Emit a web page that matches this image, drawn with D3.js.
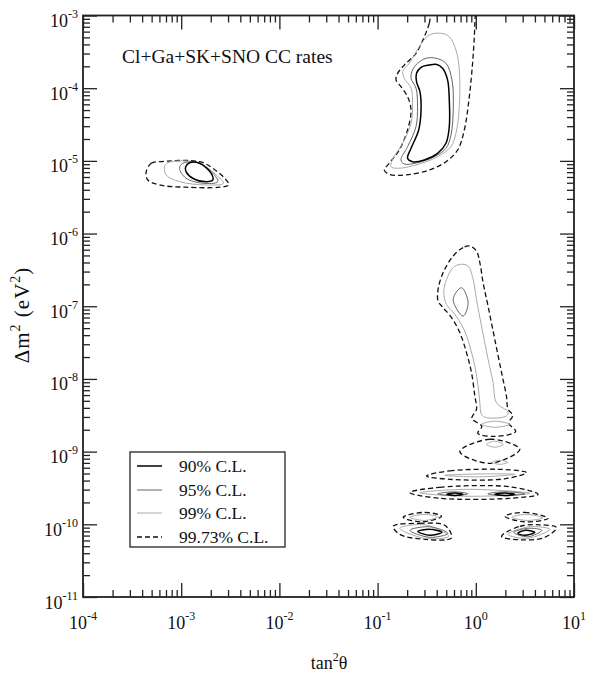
<!DOCTYPE html>
<html>
<head>
<meta charset="utf-8">
<script src="https://cdn.jsdelivr.net/npm/d3@7"></script>
<style>
  body { margin: 0; background: #fff; }
  svg text { font-family: "Liberation Serif", "Times New Roman", serif; fill: #111; }
</style>
</head>
<body>
<div id="chart"></div>
<script>
// axis decades
const tanTicks = [1e-4, 1e-3, 1e-2, 1e-1, 1, 10];
const tanExp = ["-4", "-3", "-2", "-1", "0", "1"];
const dmTicks = [1e-11, 1e-10, 1e-9, 1e-8, 1e-7, 1e-6, 1e-5, 1e-4, 1e-3];
const dmExp = ["-11", "-10", "-9", "-8", "-7", "-6", "-5", "-4", "-3"];

// contours, [tan^2 theta, dm^2 (eV^2)]
// LMA
const lma90 = [[0.336,2.08e-4],[0.277,1.94e-4],[0.249,1.60e-4],[0.249,1.23e-4],[0.270,8.95e-5],[0.277,5.01e-5],[0.262,2.66e-5],[0.219,1.49e-5],[0.202,1.09e-5],[0.227,9.75e-6],[0.299,1.03e-5],[0.408,1.27e-5],[0.497,1.75e-5],[0.537,2.95e-5],[0.537,6.89e-5],[0.516,1.30e-4],[0.459,1.88e-4],[0.393,2.13e-4]];
const lma95 = [[0.311,2.58e-4],[0.255,2.20e-4],[0.227,1.78e-4],[0.219,1.37e-4],[0.246,1.0e-4],[0.255,5.57e-5],[0.246,2.95e-5],[0.202,1.57e-5],[0.173,1.03e-5],[0.187,9.06e-6],[0.255,9.44e-6],[0.378,1.14e-5],[0.497,1.49e-5],[0.559,2.27e-5],[0.590,5.57e-5],[0.572,1.30e-4],[0.497,2.20e-4],[0.393,2.58e-4]];
const lma99 = [[0.442,5.69e-4],[0.336,5.39e-4],[0.266,3.72e-4],[0.210,2.20e-4],[0.180,1.69e-4],[0.187,1.37e-4],[0.219,1.0e-4],[0.227,6.20e-5],[0.219,3.29e-5],[0.180,1.75e-5],[0.141,1.03e-5],[0.137,8.32e-6],[0.160,7.91e-6],[0.246,8.79e-6],[0.408,1.14e-5],[0.559,1.57e-5],[0.628,2.40e-5],[0.679,5.57e-5],[0.679,1.78e-4],[0.628,3.35e-4],[0.537,5.11e-4]];
const lma9973 = [[0.37,1.4e-3],[0.336,7.81e-4],[0.299,5.11e-4],[0.246,3.02e-4],[0.187,2.08e-4],[0.160,1.60e-4],[0.154,1.30e-4],[0.173,1.05e-4],[0.202,7.64e-5],[0.219,5.01e-5],[0.202,2.66e-5],[0.166,1.41e-5],[0.1315,9.27e-6],[0.117,7.48e-6],[0.1315,6.53e-6],[0.195,6.40e-6],[0.336,7.48e-6],[0.497,9.75e-6],[0.653,1.41e-5],[0.764,2.66e-5],[0.859,7.64e-5],[0.927,2.20e-4],[0.966,5.11e-4],[0.98,8.67e-4],[0.99,1.4e-3],[0.7,1.6e-3]];
// SMA
const sma90 = [[1.11e-3,8.32e-6],[1.22e-3,9.44e-6],[1.54e-3,9.27e-6],[2.02e-3,6.75e-6],[2.10e-3,5.46e-6],[1.80e-3,5.18e-6],[1.31e-3,5.77e-6],[1.12e-3,7.10e-6]];
const sma95 = [[9.61e-4,7.91e-6],[1.04e-3,9.27e-6],[1.48e-3,9.44e-6],[2.10e-3,6.75e-6],[2.36e-3,5.18e-6],[1.66e-3,4.92e-6],[1.12e-3,5.77e-6]];
const sma99 = [[6.76e-4,8.32e-6],[7.31e-4,9.44e-6],[1.48e-3,9.44e-6],[2.27e-3,6.40e-6],[2.70e-3,4.92e-6],[1.80e-3,4.66e-6],[9.61e-4,5.18e-6],[7.03e-4,6.40e-6]];
const sma9973 = [[4.40e-4,7.10e-6],[4.95e-4,9.27e-6],[6.01e-4,9.75e-6],[1.54e-3,9.75e-6],[2.10e-3,7.91e-6],[2.87e-3,5.46e-6],[3.05e-3,4.66e-6],[2.45e-3,4.34e-6],[1.12e-3,4.34e-6],[6.01e-4,4.66e-6],[4.57e-4,5.46e-6]];
// LOW
const low95 = [[0.715,1.80e-7],[0.588,1.24e-7],[0.743,7.33e-8],[0.835,1.12e-7]];
const low99 = [[0.687,3.77e-7],[0.588,3.40e-7],[0.503,2.34e-7],[0.472,1.54e-7],[0.503,1.06e-7],[0.611,7.74e-8],[0.743,5.08e-8],[0.869,2.84e-8],[0.977,1.50e-8],[1.055,7.98e-9],[1.099,4.72e-9],[1.143,3.26e-9],[1.285,2.94e-9],[2.05,3.09e-9],[2.13,3.51e-9],[1.62,4.72e-9],[1.50,8.89e-9],[1.334,1.86e-8],[1.143,5.34e-8],[1.016,1.24e-7],[0.939,2.34e-7],[0.835,3.57e-7]];
const low9973 = [[0.869,6.73e-7],[0.743,6.40e-7],[0.588,4.91e-7],[0.465,2.90e-7],[0.413,1.71e-7],[0.413,1.18e-7],[0.465,9.57e-8],[0.566,6.97e-8],[0.687,4.34e-8],[0.804,2.30e-8],[0.904,1.22e-8],[0.977,5.82e-9],[1.016,3.82e-9],[0.910,2.87e-9],[1.151,2.23e-9],[1.048,1.79e-9],[1.56,1.62e-9],[2.55,1.90e-9],[2.17,2.45e-9],[2.38,3.16e-9],[2.13,3.82e-9],[2.05,5.82e-9],[1.83,1.22e-8],[1.56,3.51e-8],[1.334,1.0e-7],[1.187,2.11e-7],[1.099,3.98e-7],[1.016,5.74e-7]];
// vacuum islands
const vac9973 = [
  [[0.687,1.0e-9],[1.39,1.48e-9],[2.81,1.08e-9],[1.39,6.9e-10]],
  [[0.315,4.62e-10],[0.543,5.44e-10],[2.22,5.62e-10],[3.28,5.14e-10],[1.97,4.23e-10],[0.543,4.16e-10]],
  [[0.213,2.73e-10],[0.430,3.23e-10],[2.22,3.28e-10],[4.31,2.59e-10],[2.22,2.28e-10],[0.430,2.28e-10]],
  [[0.182,1.25e-10],[0.303,1.46e-10],[0.448,1.29e-10],[0.282,1.08e-10]],
  [[0.144,9.39e-11],[0.269,1.03e-10],[0.483,9.69e-11],[0.566,6.52e-11],[0.303,6.22e-11],[0.168,7.28e-11]],
  [[1.97,1.29e-10],[3.15,1.46e-10],[5.45,1.21e-10],[3.15,1.08e-10]],
  [[1.83,6.84e-11],[2.81,9.39e-11],[4.49,9.85e-11],[6.64,9.01e-11],[5.05,6.62e-11],[2.81,6.12e-11]]
];
const vac99 = [
  [[1.143,2.38e-9],[1.56,2.62e-9],[2.22,2.38e-9],[1.56,2.16e-9]],
  [[1.285,1.26e-9],[1.56,1.39e-9],[1.90,1.26e-9],[1.56,1.15e-9]],
  [[1.46,7.13e-10],[1.75,7.59e-10],[2.12,7.13e-10],[1.75,6.69e-10]],
  [[0.483,4.72e-10],[1.39,4.95e-10],[2.49,4.87e-10],[1.099,4.50e-10]],
  [[0.269,2.72e-10],[0.869,3.03e-10],[3.55,2.67e-10],[0.869,2.43e-10]],
  [[0.213,1.25e-10],[0.303,1.37e-10],[0.410,1.27e-10],[0.303,1.13e-10]],
  [[0.168,8.81e-11],[0.303,9.85e-11],[0.531,6.84e-11],[0.303,6.42e-11]],
  [[2.33,1.25e-10],[3.31,1.37e-10],[4.81,1.23e-10],[3.31,1.13e-10]],
  [[2.12,7.28e-11],[3.55,9.25e-11],[5.67,8.53e-11],[3.39,6.42e-11]]
];
const vac95 = [
  [[0.410,2.63e-10],[0.611,2.80e-10],[0.829,2.63e-10],[0.611,2.47e-10]],
  [[1.325,2.63e-10],[1.97,2.80e-10],[3.15,2.63e-10],[1.97,2.47e-10]],
  [[0.213,8.27e-11],[0.340,9.25e-11],[0.519,7.52e-11],[0.340,6.62e-11]],
  [[2.44,7.76e-11],[3.39,8.81e-11],[4.70,8.27e-11],[3.39,6.73e-11]]
];
const vac90 = [
  [[0.507,2.59e-10],[0.611,2.69e-10],[0.738,2.59e-10],[0.611,2.49e-10]],
  [[1.56,2.59e-10],[1.97,2.69e-10],[2.49,2.59e-10],[1.97,2.49e-10]],
  [[0.257,8.01e-11],[0.340,8.53e-11],[0.451,7.76e-11],[0.340,7.06e-11]],
  [[2.68,7.52e-11],[3.23,8.27e-11],[3.99,7.76e-11],[3.15,7.06e-11]]
];

const levels = [
  {label: "99.73% C.L.", color: "#111", width: 1.3, dash: "5,3", curves: [lma9973, sma9973, low9973].concat(vac9973)},
  {label: "99% C.L.", color: "#aaa", width: 1, dash: null, curves: [lma99, sma99, low99].concat(vac99)},
  {label: "95% C.L.", color: "#666", width: 1, dash: null, curves: [lma95, sma95, low95].concat(vac95)},
  {label: "90% C.L.", color: "#000", width: 1.5, dash: null, curves: [lma90, sma90].concat(vac90)}
];

const W = 595, H = 674;
const pL = 83, pR = 574, pT = 15.5, pB = 597;

const svg = d3.select("#chart").append("svg")
  .attr("width", W).attr("height", H);

const x = d3.scaleLog().domain([1e-4, 10]).range([pL, pR]);
const y = d3.scaleLog().domain([1e-11, 1e-3]).range([pB, pT]);

svg.append("clipPath").attr("id", "plotclip")
  .append("rect").attr("x", pL).attr("y", pT)
  .attr("width", pR - pL).attr("height", pB - pT);

const line = d3.line()
  .x(d => x(d[0]))
  .y(d => y(d[1]))
  .curve(d3.curveCatmullRomClosed.alpha(0.5));

const plot = svg.append("g").attr("clip-path", "url(#plotclip)");

levels.forEach(lv => {
  plot.append("g").selectAll("path")
    .data(lv.curves)
    .enter().append("path")
    .attr("d", line)
    .attr("fill", "none")
    .attr("stroke", lv.color)
    .attr("stroke-width", lv.width)
    .attr("stroke-dasharray", lv.dash);
});

// minor ticks
function minors(lo, hi) {
  let out = [];
  for (let e = lo; e < hi; e++)
    for (let k = 2; k <= 9; k++) out.push(k * Math.pow(10, e));
  return out;
}
const xMinor = minors(-4, 1), yMinor = minors(-11, -3);

function styleAxis(g) {
  g.select(".domain").remove();
  g.selectAll(".tick line").attr("stroke", "#222").attr("stroke-width", 1.3);
}

[[d3.axisBottom, pB], [d3.axisTop, pT]].forEach(([ax, pos]) => {
  svg.append("g").attr("transform", `translate(0,${pos})`)
    .call(ax(x).tickValues(xMinor).tickSize(-7).tickFormat("")).call(styleAxis);
  svg.append("g").attr("transform", `translate(0,${pos})`)
    .call(ax(x).tickValues(tanTicks).tickSize(-14).tickFormat("")).call(styleAxis);
});
[[d3.axisLeft, pL], [d3.axisRight, pR]].forEach(([ax, pos]) => {
  svg.append("g").attr("transform", `translate(${pos},0)`)
    .call(ax(y).tickValues(yMinor).tickSize(-7).tickFormat("")).call(styleAxis);
  svg.append("g").attr("transform", `translate(${pos},0)`)
    .call(ax(y).tickValues(dmTicks).tickSize(-14).tickFormat("")).call(styleAxis);
});

// frame
svg.append("rect")
  .attr("x", pL).attr("y", pT)
  .attr("width", pR - pL).attr("height", pB - pT)
  .attr("fill", "none").attr("stroke", "#222").attr("stroke-width", 1.8);

// tick labels
const xl = svg.append("g").selectAll("text").data(tanTicks).enter().append("text")
  .attr("x", d => x(d)).attr("y", 629)
  .attr("text-anchor", "middle")
  .style("font-size", "18px");
xl.append("tspan").text("10");
xl.append("tspan").attr("dy", -9).style("font-size", "12px").text((d, i) => tanExp[i]);

const yl = svg.append("g").selectAll("text").data(dmTicks).enter().append("text")
  .attr("x", 78).attr("y", d => y(d) + 11.5)
  .attr("text-anchor", "end")
  .style("font-size", "18px");
yl.append("tspan").text("10");
yl.append("tspan").attr("dy", -9).style("font-size", "12px").text((d, i) => dmExp[i]);

// axis titles
const xt = svg.append("text").attr("x", 329).attr("y", 669)
  .attr("text-anchor", "middle").style("font-size", "18px");
xt.append("tspan").text("tan");
xt.append("tspan").attr("dy", -8).style("font-size", "12px").text("2");
xt.append("tspan").attr("dy", 8).text("θ");

const yt = svg.append("text")
  .attr("transform", "translate(29,315) rotate(-90)")
  .attr("text-anchor", "middle").style("font-size", "21px")
  .attr("letter-spacing", "1");
yt.append("tspan").text("Δm");
yt.append("tspan").attr("dy", -9).style("font-size", "14px").text("2");
yt.append("tspan").attr("dy", 9).text(" (eV");
yt.append("tspan").attr("dy", -9).style("font-size", "14px").text("2");
yt.append("tspan").attr("dy", 9).text(")");

svg.append("text").attr("x", 122).attr("y", 63)
  .style("font-size", "19.5px")
  .text("Cl+Ga+SK+SNO CC rates");

// legend
const legendOrder = [levels[3], levels[2], levels[1], levels[0]];
const legendRows = [466, 490, 513, 537];
const lg = svg.append("g");
lg.append("rect").attr("x", 130).attr("y", 452).attr("width", 155).attr("height", 95)
  .attr("fill", "#fff").attr("stroke", "#222").attr("stroke-width", 1.3);
legendOrder.forEach((lv, i) => {
  lg.append("line").attr("x1", 137).attr("x2", 162)
    .attr("y1", legendRows[i]).attr("y2", legendRows[i])
    .attr("stroke", lv.color).attr("stroke-width", lv.width)
    .attr("stroke-dasharray", lv.dash);
  lg.append("text").attr("x", 179).attr("y", legendRows[i] + 6)
    .style("font-size", "17.5px").text(lv.label);
});
</script>
</body>
</html>
